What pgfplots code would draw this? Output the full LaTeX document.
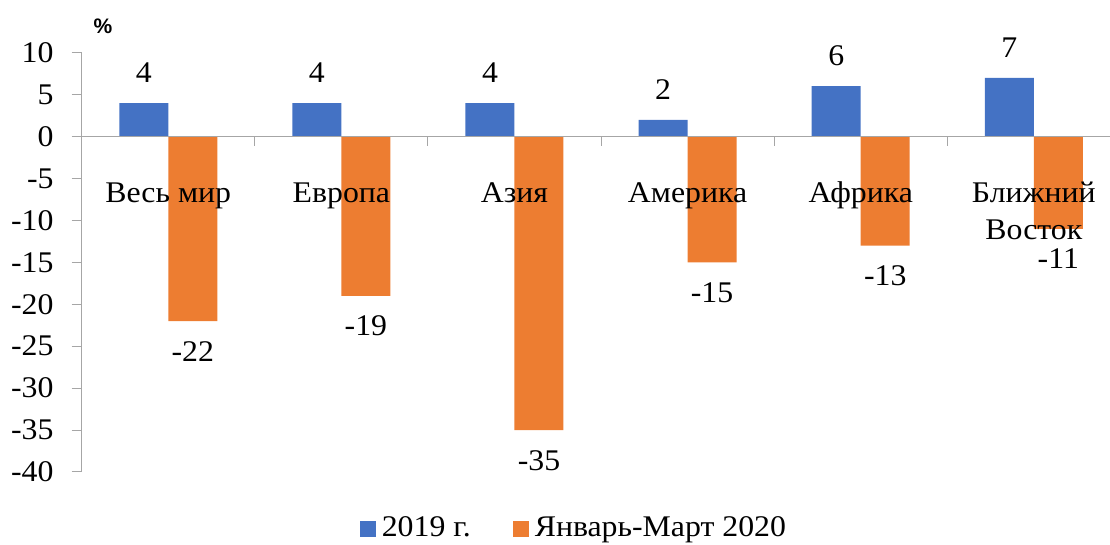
\documentclass[border=0pt]{standalone}
\usepackage{pgfplots}
\pgfplotsset{compat=1.18}
\usepackage{fontspec}
\setmainfont{Liberation Serif}[FakeStretch=1.06]
\newfontfamily\sansfont{Liberation Sans}
\definecolor{cblue}{HTML}{4472C4}
\definecolor{corange}{HTML}{ED7D31}
\definecolor{axgray}{HTML}{A6A6A6}
\newcommand{\bigfont}{\fontsize{30}{37}\selectfont}
\newcommand{\labstrut}{\rule{0pt}{24pt}}
\begin{document}
\begin{tikzpicture}[x=1pt,y=1pt]
\path[use as bounding box] (0,0) rectangle (1110,545);
\begin{axis}[
  at={(81.7pt,73pt)}, anchor=south west,
  scale only axis, width=1028.3pt, height=419.3pt,
  xmin=-0.5, xmax=5.44, ymin=-40, ymax=10,
  axis x line=middle, axis y line=left,
  axis line style={axgray, line width=1pt, -},
  axis on top,
  /pgf/number format/assume math mode=true,
  ytick={-40,-35,...,10},
  xtick={0,...,5},
  xticklabels={\labstrut Весь мир, \labstrut Европа, \labstrut Азия, \labstrut Америка, \labstrut Африка, {\labstrut Ближний\\Восток}},
  minor xtick={0.5,1.5,...,4.5},
  xtick align=inside,
  ytick align=outside,
  major tick length=10pt,
  minor tick length=9pt,
  tick style={axgray, line width=1pt},
  major x tick style={draw=none},
  xticklabel style={font=\bigfont, align=center, inner sep=0pt, anchor=north, yshift=-32pt},
  yticklabel style={font=\bigfont, inner sep=0pt, anchor=east, xshift=-18pt},
  ybar=0pt, bar width=49pt,
  nodes near coords,
  nodes near coords style={font=\bigfont, inner sep=20pt, text=black},
  legend columns=2,
  legend style={draw=none, fill=none, font=\bigfont, at={(0.4787,-0.1312)}, anchor=center,
    /tikz/every even column/.append style={column sep=40pt}},
  legend image code/.code={\fill[#1] (0pt,-10pt) rectangle (16pt,6pt);},
  clip=false,
]
\addplot[fill=cblue, draw=none] coordinates {(0,4) (1,4) (2,4) (3,2) (4,6) (5,7)};
\addplot[fill=corange, draw=none] coordinates {(0,-22) (1,-19) (2,-35) (3,-15) (4,-13) (5,-11)};
\legend{\hspace{4pt}2019 г., \hspace{4pt}Январь-Март 2020}
\end{axis}
\node[font=\sansfont\bfseries\fontsize{21}{24}\selectfont] at (103,519) {\%};
\end{tikzpicture}
\end{document}
